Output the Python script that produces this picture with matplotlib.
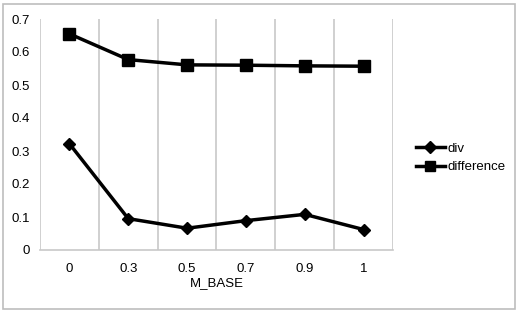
import matplotlib
matplotlib.use("Agg")
import matplotlib.pyplot as plt
from matplotlib.lines import Line2D
from matplotlib.patches import Rectangle

categories = ["0", "0.3", "0.5", "0.7", "0.9", "1"]
div = [0.322, 0.095, 0.066, 0.089, 0.108, 0.062]
difference = [0.655, 0.577, 0.561, 0.560, 0.558, 0.557]
yticks = [0, 0.1, 0.2, 0.3, 0.4, 0.5, 0.6, 0.7]
ytick_labels = ["0", "0.1", "0.2", "0.3", "0.4", "0.5", "0.6", "0.7"]

plt.rcParams['font.family'] = ['Liberation Sans', 'DejaVu Sans']
FS = 9.5

W, H = 519, 313
fig = plt.figure(figsize=(W/100, H/100), dpi=100)
ax = fig.add_axes([40/W, 1-250/H, (393-40)/W, (250-19)/H])

x = list(range(len(categories)))
ax.plot(x, div, color='black', lw=2.5, marker='D', ms=6.5, label='div')
ax.plot(x, difference, color='black', lw=2.5, marker='s', ms=8, label='difference')

ax.set_xlim(-0.5, len(categories) - 0.5)
ax.set_ylim(0, 0.7)
for b in range(len(categories) + 1):
    ax.axvline(b - 0.5, color='#c8c8c8', lw=1.2, zorder=0)

ax.set_xticks(x)
ax.set_xticklabels(categories, fontsize=FS)
ax.set_yticks(yticks)
ax.set_yticklabels(ytick_labels, fontsize=FS)
ax.tick_params(axis='x', length=0, pad=9)
ax.tick_params(axis='y', length=0, pad=7)
for s in ['top', 'right', 'left']:
    ax.spines[s].set_visible(False)
ax.spines['bottom'].set_color('#c8c8c8')
ax.spines['bottom'].set_linewidth(1.2)
ax.set_xlabel("M_BASE", fontsize=FS, labelpad=2)

fig.legend(handles=[
    Line2D([], [], color='black', lw=2.5, marker='D', ms=6, label='div'),
    Line2D([], [], color='black', lw=2.5, marker='s', ms=7, label='difference')],
    loc='upper left', bbox_to_anchor=(404/W, 1-131/H), frameon=False,
    fontsize=FS, handlelength=2.2, handletextpad=0.2, labelspacing=0.45)

fig.add_artist(Rectangle((3/W, 4/H), 512/W, 305/H, transform=fig.transFigure,
                         fill=False, edgecolor='#bdbdbd', lw=1.2))

fig.savefig("out.png", dpi=100)
